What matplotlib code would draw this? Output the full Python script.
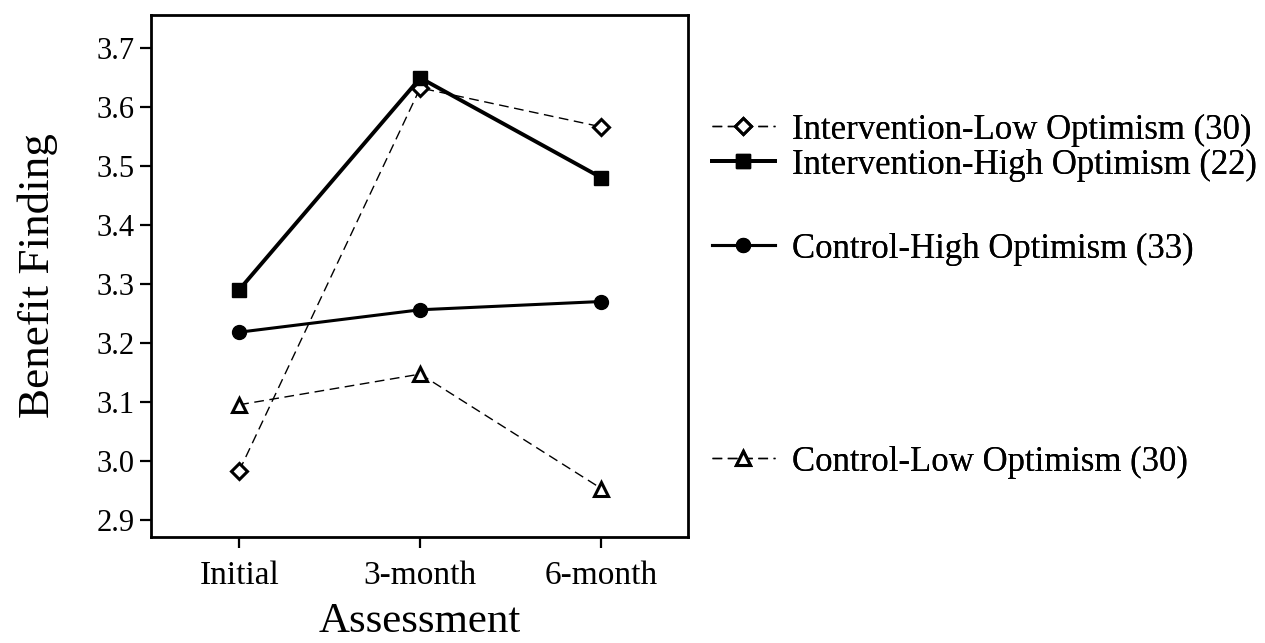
import matplotlib.pyplot as plt

plt.rcParams['font.family'] = ['Liberation Serif', 'DejaVu Serif']

# assessment points
assessments = ['Initial', '3-month', '6-month']

# mean benefit finding per group
int_low = [2.983, 3.632, 3.566]
int_high = [3.290, 3.649, 3.480]
ctl_high = [3.218, 3.256, 3.270]
ctl_low = [3.095, 3.147, 2.953]

labels = ['Intervention-Low Optimism (30)', 'Intervention-High Optimism (22)',
          'Control-High Optimism (33)', 'Control-Low Optimism (30)']

yticks = [2.9, 3.0, 3.1, 3.2, 3.3, 3.4, 3.5, 3.6, 3.7]

fig = plt.figure(figsize=(12.65, 6.43), dpi=100)
ax = fig.add_axes([0.119, 0.165, 0.425, 0.812])

x = list(range(len(assessments)))

l1, = ax.plot(x, int_low, color='black', lw=1.0, ls=(0, (7, 4)),
              marker='D', ms=8, mfc='white', mec='black', mew=2.2)
l2, = ax.plot(x, int_high, color='black', lw=2.8, ls='-',
              marker='s', ms=10, mfc='black', mec='black')
l3, = ax.plot(x, ctl_high, color='black', lw=2.2, ls='-',
              marker='o', ms=10, mfc='black', mec='black')
l4, = ax.plot(x, ctl_low, color='black', lw=1.0, ls=(0, (7, 4)),
              marker='^', ms=10, mfc='white', mec='black', mew=2.2)

ax.set_xlim(-0.49, 2.48)
ax.set_ylim(2.871, 3.756)
ax.set_xticks(x)
ax.set_xticklabels(assessments, fontsize=24)
ax.set_yticks(yticks)
ax.set_yticklabels(['%.1f' % v for v in yticks], fontsize=22)
ax.tick_params(axis='both', direction='out', length=8, width=1.6, color='black')
ax.tick_params(axis='x', pad=9)
for s in ax.spines.values():
    s.set_linewidth(2.0)

ax.set_xlabel('Assessment', fontsize=31, labelpad=8)
ax.set_ylabel('Benefit Finding', fontsize=32.5, labelpad=28)

# legend entries placed one by one to keep the uneven spacing
lines = [l1, l2, l3, l4]
ypos = [130, 165, 249, 462]
for line, lab, yp in zip(lines, labels, ypos):
    lg = fig.legend([line], [lab], loc='center left',
                    bbox_to_anchor=(0.563, 1 - yp / 643), frameon=False,
                    fontsize=25, handlelength=1.8, handletextpad=0.5,
                    borderpad=0, borderaxespad=0)
    fig.add_artist(lg)

fig.savefig('out.png', dpi=100)
